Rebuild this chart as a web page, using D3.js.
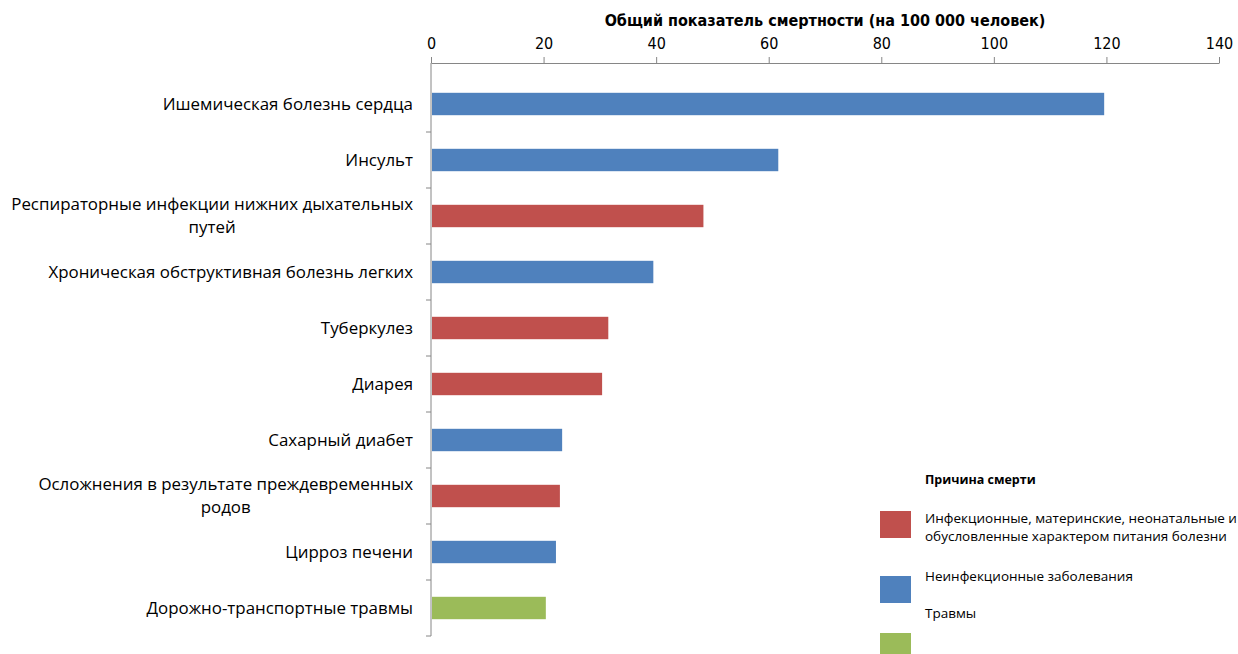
<!DOCTYPE html>
<html>
<head>
<meta charset="utf-8">
<script src="https://cdn.jsdelivr.net/npm/d3@7"></script>
<style>
  body { margin: 0; background: #fff; overflow: hidden; }
  svg { display: block; }
</style>
</head>
<body>
<div id="chart"></div>
<script>
// chart data
const causes = [
    ["Ишемическая болезнь сердца"],
    ["Инсульт"],
    ["Респираторные инфекции нижних дыхательных", "путей"],
    ["Хроническая обструктивная болезнь легких "],
    ["Туберкулез"],
    ["Диарея"],
    ["Сахарный диабет"],
    ["Осложнения в результате преждевременных", "родов"],
    ["Цирроз печени"],
    ["Дорожно-транспортные травмы"]
];
const rates = [119.6, 61.7, 48.4, 39.5, 31.5, 30.4, 23.3, 22.9, 22.2, 20.4];
const groups = ["non", "non", "inf", "non", "inf", "inf", "non", "inf", "non", "inj"];
const xTicks = [0, 20, 40, 60, 80, 100, 120, 140];
const groupKeys = ["inf", "non", "inj"];
const groupNames = [
    ["Инфекционные, материнские, неонатальные и", "обусловленные характером питания болезни"],
    ["Неинфекционные заболевания"],
    ["Травмы"]
];

const width = 1238;
const height = 654;
const margin = { left: 431, right: 19, top: 63, bottom: 18 };

const color = d3.scaleOrdinal()
    .domain(groupKeys)
    .range(["#C0504D", "#4F81BD", "#9BBB59"]);

const svg = d3.select("#chart")
    .append("svg")
    .attr("width", width)
    .attr("height", height);

const x = d3.scaleLinear()
    .domain([0, 140])
    .range([margin.left, width - margin.right]);

const y = d3.scaleBand()
    .domain(d3.range(causes.length))
    .range([margin.top + 13, height - margin.bottom])
    .paddingInner(0.6)
    .paddingOuter(0.3);

// title
svg.append("text")
    .attr("x", 825)
    .attr("y", 26)
    .attr("text-anchor", "middle")
    .attr("font-family", "'Liberation Sans Narrow', 'DejaVu Sans Condensed', sans-serif")
    .attr("font-weight", "bold")
    .attr("font-size", "16px")
    .attr("fill", "#000")
    .text("Общий показатель смертности (на 100 000 человек)");

// top x axis
svg.append("g")
    .attr("transform", `translate(0,${margin.top})`)
    .call(d3.axisTop(x).tickValues(xTicks).tickSize(6).tickPadding(8).tickSizeOuter(0))
    .call((g) => g.select(".domain").attr("stroke", "#868686"))
    .call((g) => g.selectAll(".tick line").attr("stroke", "#868686"))
    .call((g) => g.selectAll(".tick text")
        .attr("font-family", "'Liberation Sans Narrow', 'DejaVu Sans Condensed', sans-serif")
        .attr("font-size", "16px")
        .attr("fill", "#000"));

// left axis line with ticks between categories
const step = y.step();
const bounds = d3.range(causes.length + 1).map((i) => y(0) - (step - y.bandwidth()) / 2 + i * step);
svg.append("line")
    .attr("x1", x(0)).attr("x2", x(0))
    .attr("y1", margin.top).attr("y2", bounds[bounds.length - 1])
    .attr("stroke", "#868686");
svg.selectAll(".ytick")
    .data(bounds.slice(1))
    .enter()
    .append("line")
    .attr("class", "ytick")
    .attr("x1", x(0) - 5).attr("x2", x(0))
    .attr("y1", (d) => d).attr("y2", (d) => d)
    .attr("stroke", "#868686");

// bars
svg.selectAll("rect.bar")
    .data(rates)
    .enter()
    .append("rect")
    .attr("class", "bar")
    .attr("x", x(0) + 1)
    .attr("y", (d, i) => y(i))
    .attr("width", (d) => x(d) - x(0) - 1)
    .attr("height", y.bandwidth())
    .attr("fill", (d, i) => color(groups[i]));

// category labels
const labelRight = 413;
causes.forEach((lines, i) => {
    const cy = y(i) + y.bandwidth() / 2;
    const t = svg.append("text")
        .attr("font-family", "'Open Sans', sans-serif")
        .attr("font-size", "16.9px")
        .attr("fill", "#000");
    const lh = 23;
    const top = cy - (lines.length - 1) * lh / 2;
    const spans = lines.map((s, k) => t.append("tspan")
        .attr("y", top + k * lh)
        .attr("dy", "0.35em")
        .text(s));
    if (lines.length === 1) {
        spans[0].attr("x", labelRight).attr("text-anchor", "end");
    } else {
        const w = d3.max(spans, (s) => s.node().getComputedTextLength());
        const mid = labelRight - w / 2;
        spans.forEach((s) => s.attr("x", mid).attr("text-anchor", "middle"));
    }
});

// legend
const legend = svg.append("g");
legend.append("text")
    .attr("x", 925)
    .attr("y", 484)
    .attr("font-family", "'Open Sans', sans-serif")
    .attr("font-weight", "bold")
    .attr("font-size", "12.5px")
    .attr("fill", "#000")
    .text("Причина смерти");

const swatchY = [511, 576, 633];
const textY = [[523, 541], [581], [618]];
groupKeys.forEach((k, i) => {
    legend.append("rect")
        .attr("x", 880)
        .attr("y", swatchY[i])
        .attr("width", 31)
        .attr("height", 27)
        .attr("fill", color(k));
    groupNames[i].forEach((s, j) => {
        legend.append("text")
            .attr("x", 925)
            .attr("y", textY[i][j])
            .attr("font-family", "'Open Sans', sans-serif")
            .attr("font-size", "13.5px")
            .attr("fill", "#000")
            .text(s);
    });
});
</script>
</body>
</html>
